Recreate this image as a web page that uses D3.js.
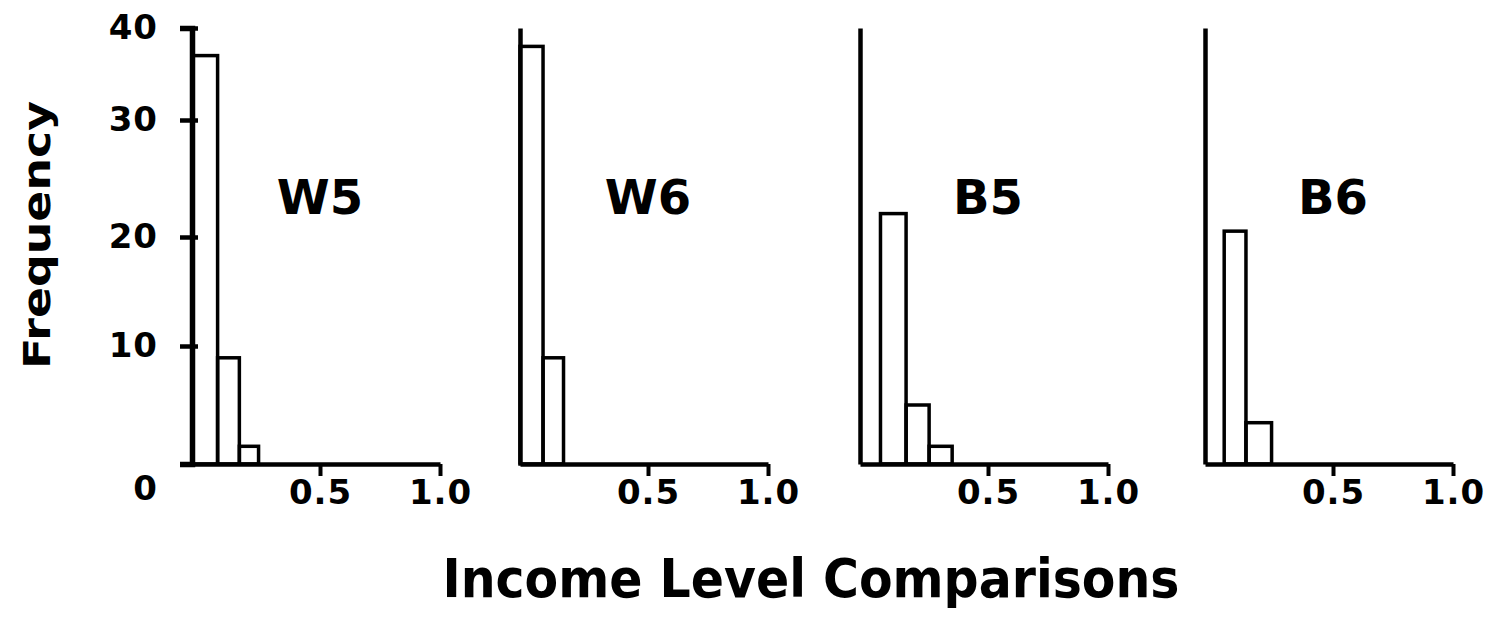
<!DOCTYPE html>
<html>
<head>
<meta charset="utf-8">
<script src="https://cdn.jsdelivr.net/npm/d3@7"></script>
<style>
  body { margin: 0; background: #fff; }
  text { font-family: "DejaVu Sans", sans-serif; font-weight: bold; fill: #000; }
</style>
</head>
<body>
<div id="chart"></div>
<script>
// histogram panels
var panels = ["W5", "W6", "B5", "B6"];
var binEdges = [
  [0, 0.10, 0.185, 0.26],
  [0, 0.09, 0.17],
  [0.08, 0.18, 0.27, 0.36],
  [0.075, 0.16, 0.26]
];
var counts = [
  [37, 9, 1.5],
  [38, 9],
  [22, 5, 1.5],
  [20.5, 3.5]
];
var yTicks = [0, 10, 20, 30, 40];
var xTicks = [0.5, 1.0];

(function(){
  var width = 1492, height = 618;
  var origins = [192, 520, 860, 1205]; // left edge of each panel

  var svg = d3.select("#chart")
    .append("svg")
    .attr("width", width)
    .attr("height", height);

  // hand drawn axis, ticks are not evenly spaced so use a polylinear scale
  var y = d3.scaleLinear()
    .domain(yTicks)
    .range([464, 346, 237, 120, 28]);

  var x = d3.scaleLinear()
    .domain([0, 0.5, 1])
    .range([0, 128, 248]);

  panels.forEach(function(name, i) {
    var g = svg.append("g")
      .attr("transform", "translate(" + origins[i] + ",0)");

    var bins = counts[i].map(function(c, j) {
      return { x0: binEdges[i][j], x1: binEdges[i][j + 1], n: c };
    });

    g.selectAll("rect")
      .data(bins)
      .enter().append("rect")
      .attr("x", function(d) { return x(d.x0); })
      .attr("width", function(d) { return x(d.x1) - x(d.x0); })
      .attr("y", function(d) { return y(d.n); })
      .attr("height", function(d) { return y(0) - y(d.n); })
      .attr("fill", "none")
      .attr("stroke", "#000")
      .attr("stroke-width", 3.5);

    // y axis (ticks only on the first panel)
    var yAxis = d3.axisLeft(y).tickSizeOuter(0);
    if (i === 0) {
      yAxis.tickValues(yTicks).tickSize(12).tickPadding(22);
    } else {
      yAxis.tickValues([]);
    }
    var ya = g.append("g").call(yAxis);
    ya.select(".domain").attr("stroke-width", i === 0 ? 5.5 : 4.5);
    ya.selectAll(".tick line")
      .attr("x1", 6)
      .attr("stroke-width", 4.5)
      .filter(function(d) { return d === 0; }).remove();
    ya.selectAll(".tick text")
      .attr("font-size", 34)
      .attr("font-family", "DejaVu Sans")
      .attr("letter-spacing", 1)
      .filter(function(d) { return d === 0; })
      .attr("dy", "1.05em");

    // x axis
    var xa = g.append("g")
      .attr("transform", "translate(0," + y(0) + ")")
      .call(d3.axisBottom(x)
        .tickValues(xTicks)
        .tickSize(12)
        .tickSizeOuter(0)
        .tickPadding(4)
        .tickFormat(d3.format(".1f")));
    xa.select(".domain").attr("stroke-width", 4.5);
    xa.selectAll(".tick line").attr("stroke-width", 4);
    xa.selectAll(".tick text")
      .attr("font-size", 34)
      .attr("font-family", "DejaVu Sans")
      .attr("letter-spacing", 1);

    g.append("text")
      .attr("x", x(0.5))
      .attr("y", 214)
      .attr("text-anchor", "middle")
      .attr("font-size", 48)
      .text(name);
  });

  svg.append("text")
    .attr("transform", "translate(50,235) rotate(-90)")
    .attr("text-anchor", "middle")
    .attr("font-size", 38)
    .attr("textLength", 268)
    .attr("lengthAdjust", "spacingAndGlyphs")
    .text("Frequency");

  svg.append("text")
    .attr("x", 811)
    .attr("y", 597)
    .attr("text-anchor", "middle")
    .attr("font-size", 54)
    .attr("textLength", 737)
    .attr("lengthAdjust", "spacingAndGlyphs")
    .text("Income Level Comparisons");
})();
</script>
</body>
</html>
